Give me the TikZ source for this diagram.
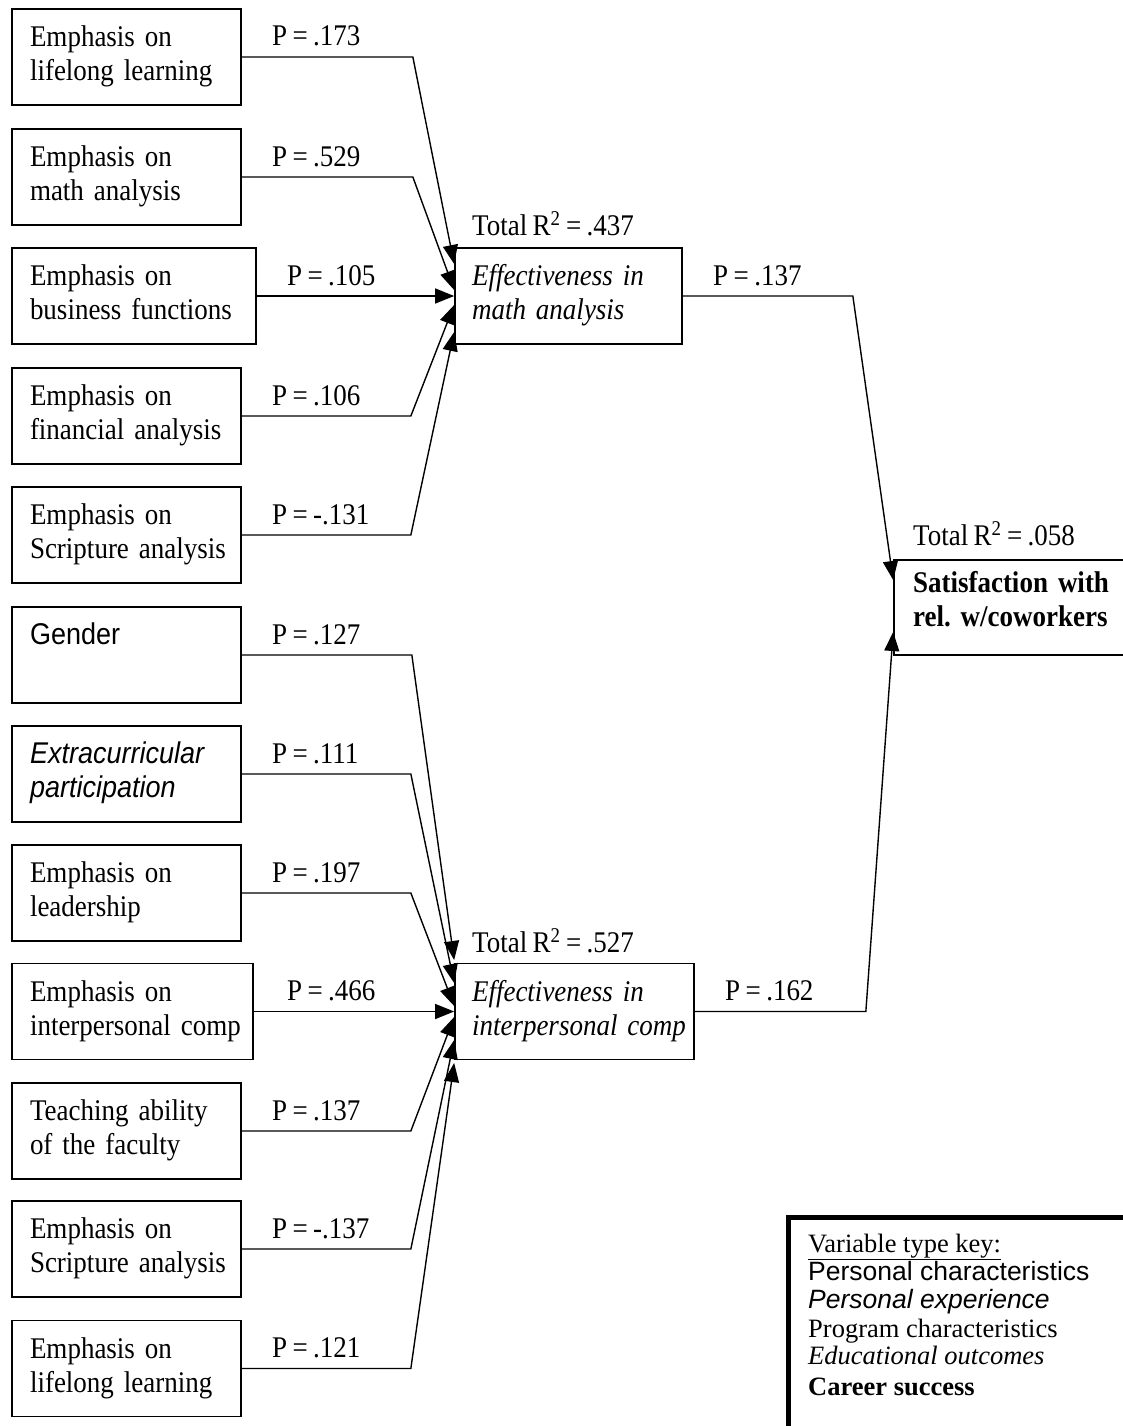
\documentclass[tikz,border=0pt]{standalone}
\usepackage{fontspec}
\setmainfont{Liberation Serif}[FakeStretch=0.9, WordSpace=0.8]
\setsansfont{Liberation Sans}[FakeStretch=0.9, WordSpace=0.8]
\newfontfamily\keyserif{Liberation Serif}
\newfontfamily\keysans{Liberation Sans}
\usetikzlibrary{arrows.meta}
\frenchspacing
\newcommand\twol[2]{\strut\mbox{#1}\\\strut\mbox{#2}}
\begin{document}
\begin{tikzpicture}[x=1pt,y=-1pt,
  box/.style={draw, line width=1.7pt, inner xsep=18pt, inner ysep=0pt, minimum height=96pt,
    align=left, text width=#1, font=\fontsize{30}{34}\selectfont},
  lbl/.style={anchor=base west, inner sep=0pt, font=\fontsize{30}{34}\selectfont},
  keyline/.style={anchor=base west, inner sep=0pt, font=\fontsize{26.5}{28}\selectfont},
  arr/.style={line width=1.4pt, -{Triangle[length=19pt,width=15pt]}},
]
\useasboundingbox (0,0) rectangle (1123,1426);

% left column, upper group
\node[box=193pt] (a1) at (126.5,57)  {\twol{Emphasis on}{lifelong learning}};
\node[box=193pt] (a2) at (126.5,177) {\twol{Emphasis on}{math analysis}};
\node[box=208pt] (a3) at (134,296)   {\twol{Emphasis on}{business functions}};
\node[box=193pt] (a4) at (126.5,416) {\twol{Emphasis on}{financial analysis}};
\node[box=193pt] (a5) at (126.5,535) {\twol{Emphasis on}{Scripture analysis}};
% left column, lower group
\node[box=193pt] (c1) at (126.5,655)  {\twol{\sffamily Gender}{}};
\node[box=193pt] (c2) at (126.5,774)  {\twol{\sffamily\itshape Extracurricular}{\sffamily\itshape participation}};
\node[box=193pt] (c3) at (126.5,893)  {\twol{Emphasis on}{leadership}};
\node[box=205pt] (c4) at (132.5,1011.5) {\twol{Emphasis on}{interpersonal comp}};
\node[box=193pt] (c5) at (126.5,1131) {\twol{Teaching ability}{of the faculty}};
\node[box=193pt] (c6) at (126.5,1249) {\twol{Emphasis on}{Scripture analysis}};
\node[box=193pt] (c7) at (126.5,1368.5) {\twol{Emphasis on}{lifelong learning}};

% mediators
\node[box=193pt, inner xsep=17pt] (m1) at (568.5,296) {\twol{\itshape Effectiveness in}{\itshape math analysis}};
\node[box=205pt, inner xsep=17pt] (m2) at (574.5,1011.5) {\twol{\itshape Effectiveness in}{\itshape interpersonal comp}};

% outcome
\node[box=208pt, inner xsep=19pt, minimum height=95pt] (r) at (1017,607.5)
  {\strut\mbox{\bfseries Satisfaction with}\\\strut\mbox{\bfseries rel. w/coworkers}\rule[-19pt]{0pt}{1pt}};

% R^2 labels
\node[lbl] (t1) at (472,235) {Total R\textsuperscript{2} = .437};
\node[lbl] (t2) at (472,952) {Total R\textsuperscript{2} = .527};
\node[lbl] (t3) at (913,545) {Total R\textsuperscript{2} = .058};

% path labels
\node[lbl] (p1) at (272,46)  {P = .173};
\node[lbl] (p2) at (272,166) {P = .529};
\node[lbl] (p3) at (287,285) {P = .105};
\node[lbl] (p4) at (272,405) {P = .106};
\node[lbl] (p5) at (272,524) {P = -.131};
\node[lbl] (q1) at (272,644) {P = .127};
\node[lbl] (q2) at (272,763) {P = .111};
\node[lbl] (q3) at (272,882) {P = .197};
\node[lbl] (q4) at (287,1000) {P = .466};
\node[lbl] (q5) at (272,1120) {P = .137};
\node[lbl] (q6) at (272,1238) {P = -.137};
\node[lbl] (q7) at (272,1357) {P = .121};
\node[lbl] (pm1) at (713,285) {P = .137};
\node[lbl] (pm2) at (725,1000) {P = .162};

% connectors, upper group
\draw[arr] (a1.east) -- ++(171,0) -- ([yshift=32pt]m1.west);
\draw[arr] (a2.east) -- ++(171,0) -- ([yshift=6pt]m1.west);
\draw[arr] (a3.east) -- (m1.west);
\draw[arr] (a4.east) -- ++(169,0) -- ([yshift=-9pt]m1.west);
\draw[arr] (a5.east) -- ++(169,0) -- ([yshift=-36pt]m1.west);
% connectors, lower group
\draw[arr] (c1.east) -- ++(170,0) -- ([yshift=51.5pt]m2.west);
\draw[arr] (c2.east) -- ++(169,0) -- ([yshift=28.5pt]m2.west);
\draw[arr] (c3.east) -- ++(169,0) -- ([yshift=5.5pt]m2.west);
\draw[arr] (c4.east) -- (m2.west);
\draw[arr] (c5.east) -- ++(169,0) -- ([yshift=-5.5pt]m2.west);
\draw[arr] (c6.east) -- ++(169,0) -- ([yshift=-28.5pt]m2.west);
\draw[arr] (c7.east) -- ++(169,0) -- ([yshift=-51.5pt]m2.west);
% to outcome
\draw[arr] (m1.east) -- ++(170,0) -- ([yshift=27.5pt]r.west);
\draw[arr] (m2.east) -- ++(171,0) -- ([yshift=-24.5pt]r.west);

% key
\node[draw, line width=5pt, inner sep=0pt, minimum width=360pt, minimum height=230pt,
  anchor=north west] (keybox) at (785.5,1214.5) {};
\node[keyline] (k0) at (808,1252) {\keyserif\underline{Variable type key:}};
\node[keyline] (k1) at (808,1280) {\keysans Personal characteristics};
\node[keyline] (k2) at (808,1308) {\keysans\itshape Personal experience};
\node[keyline] (k3) at (808,1337) {\keyserif Program characteristics};
\node[keyline] (k4) at (808,1364) {\keyserif\itshape Educational outcomes};
\node[keyline] (k5) at (808,1395) {\keyserif\bfseries Career success};
\end{tikzpicture}
\end{document}
